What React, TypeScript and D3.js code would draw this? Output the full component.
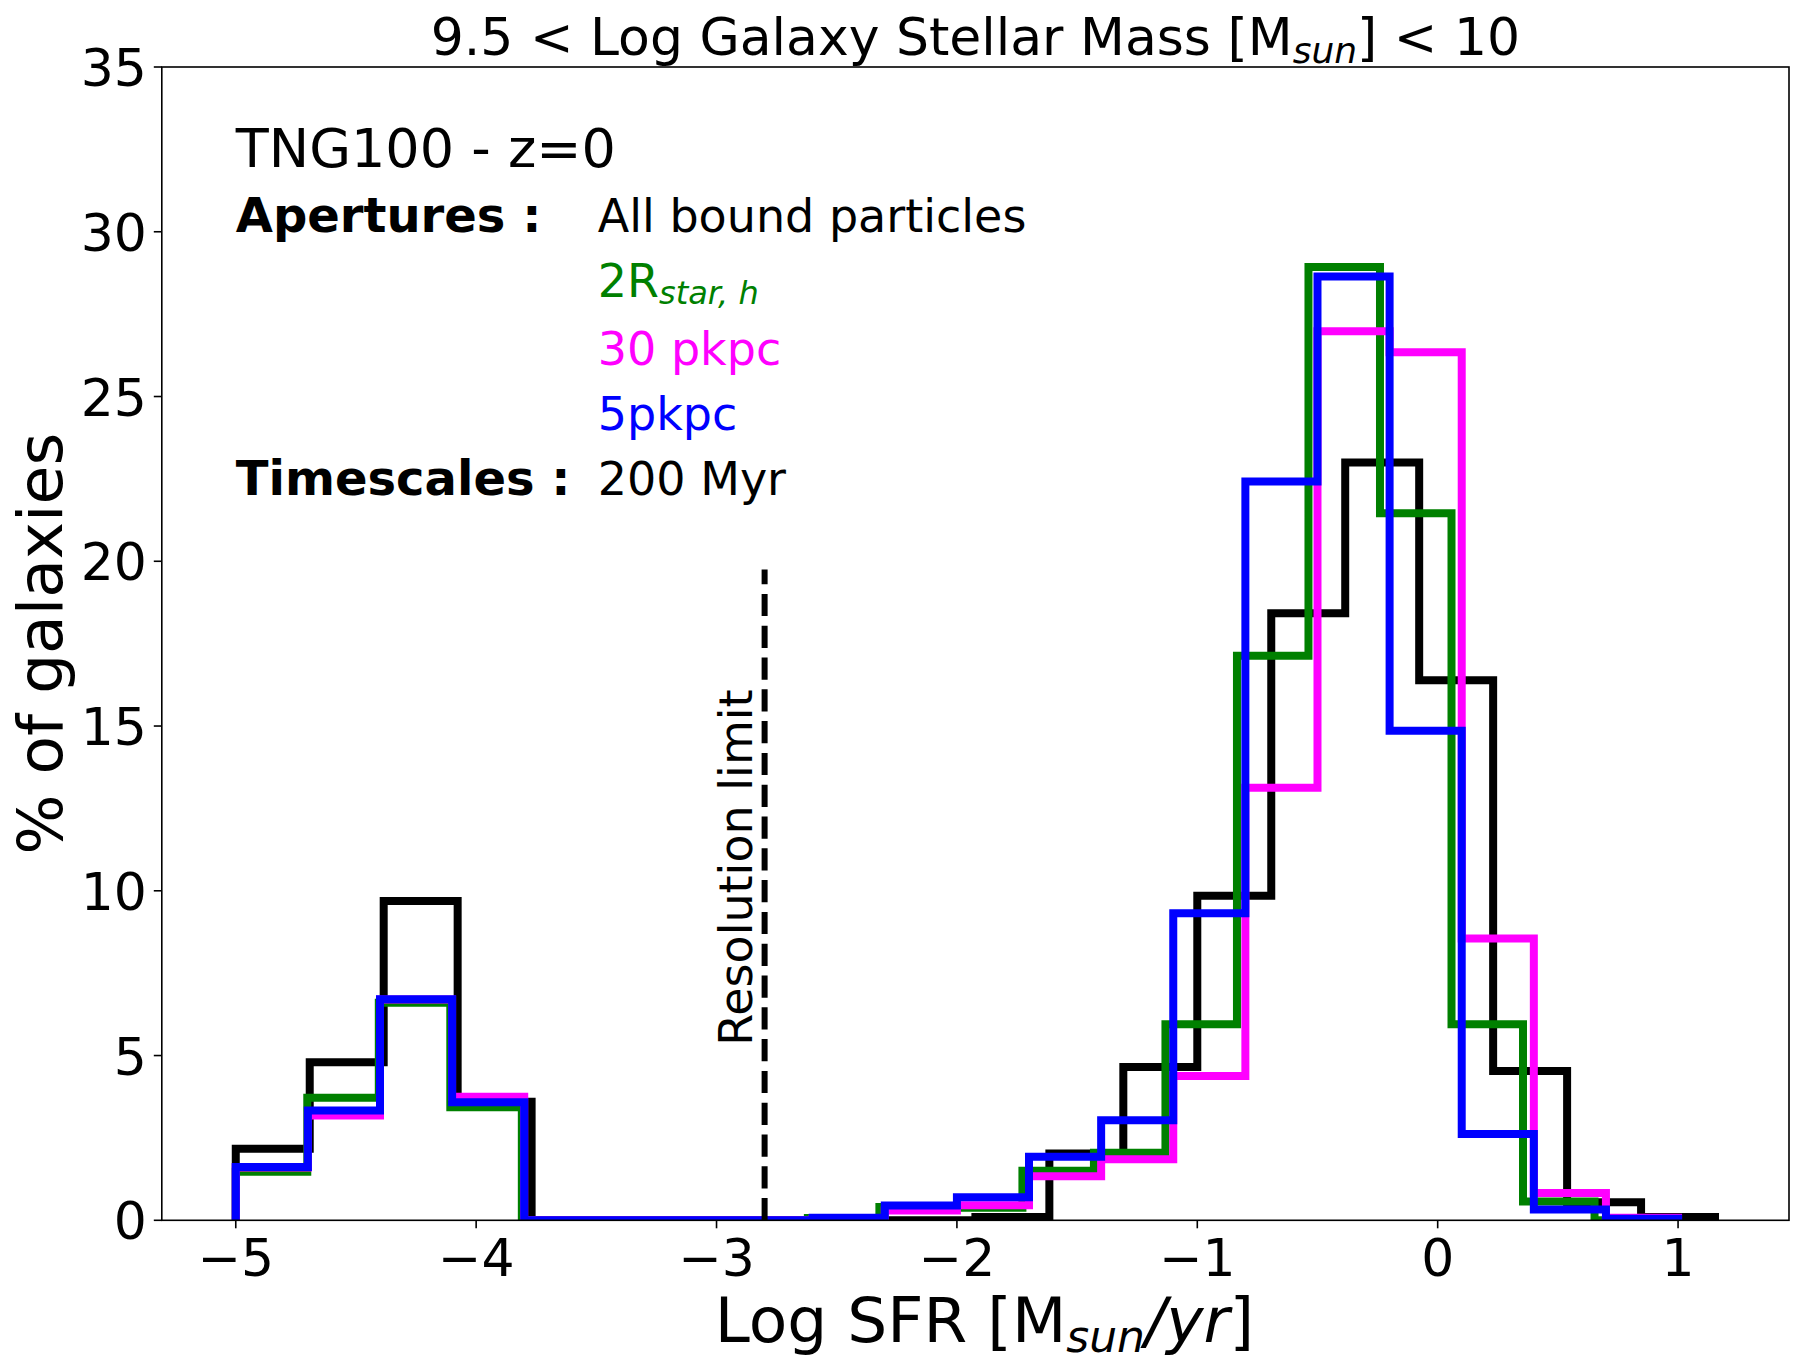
import * as d3 from 'd3'

const WIDTH = 1812
const HEIGHT = 1371
const margin = { top: 67, right: 23, bottom: 150.7, left: 161.8 }
const FONT = '"DejaVu Sans", sans-serif'

// % of galaxies per log SFR bin; every series has 20 even bins between lo and hi
const allBoundRange = [-5, 1.1538]
const allBound = [2.17, 4.8, 9.69, 3.6, 0, 0, 0, 0, 0, 0, 0.1, 2.03, 4.65, 9.85, 18.42, 23.0, 16.39, 4.53, 0.55, 0.1]

const twoRstarRange = [-5, 0.95]
const twoRstar = [1.47, 3.72, 6.6, 3.43, 0, 0, 0, 0, 0.07, 0.4, 0.38, 1.5, 2.05, 5.95, 17.13, 28.93, 21.46, 5.95, 0.57, 0]

const pkpc30Range = [-5, 1.0]
const pkpc30 = [1.6, 3.18, 6.7, 3.75, 0, 0, 0, 0, 0.05, 0.3, 0.46, 1.34, 1.85, 4.38, 13.13, 26.98, 26.34, 8.55, 0.83, 0.08]

const pkpc5Range = [-5, 1.0]
const pkpc5 = [1.62, 3.33, 6.71, 3.58, 0, 0, 0, 0, 0.08, 0.45, 0.7, 1.93, 3.04, 9.32, 22.42, 28.64, 14.86, 2.62, 0.33, 0.05]

const xDomain = [-5.3077, 1.4615]
const yDomain = [0, 35]
const xTicks = [-5, -4, -3, -2, -1, 0, 1]
const yTicks = [0, 5, 10, 15, 20, 25, 30, 35]

// resolution limit marker (log SFR) and where its label starts
const resolutionLimit = -2.8
const resolutionTop = 19.75
const resolutionLabelY = 5.3

const series = [
  { name: 'All bound particles', color: '#000000', range: allBoundRange, values: allBound },
  { name: '2R_star,h', color: '#008000', range: twoRstarRange, values: twoRstar },
  { name: '30 pkpc', color: '#ff00ff', range: pkpc30Range, values: pkpc30 },
  { name: '5pkpc', color: '#0000ff', range: pkpc5Range, values: pkpc5 },
]

const fmt = (v: number) => (v < 0 ? '\u2212' + Math.abs(v) : String(v))

// outline of a step histogram, like matplotlib histtype='step'
function stepPoints(range: number[], values: number[]) {
  const [lo, hi] = range
  const w = (hi - lo) / values.length
  const pts: [number, number][] = [[lo, 0]]
  values.forEach((v, i) => {
    pts.push([lo + i * w, v])
    pts.push([lo + (i + 1) * w, v])
  })
  pts.push([hi, 0])
  return pts
}

export default function App() {
  const x = d3.scaleLinear().domain(xDomain).range([margin.left, WIDTH - margin.right])
  const y = d3.scaleLinear().domain(yDomain).range([HEIGHT - margin.bottom, margin.top])
  const x0 = margin.left
  const x1 = WIDTH - margin.right
  const y0 = HEIGHT - margin.bottom
  const y1 = margin.top
  const cx = (x0 + x1) / 2
  const cy = (y0 + y1) / 2

  const line = d3.line<[number, number]>()
    .x(d => x(d[0]))
    .y(d => y(d[1]))

  const textX = x(-5)
  const colX = textX + 362

  return (
    <svg width={WIDTH} height={HEIGHT} style={{ position: 'absolute', left: 0, top: 0, background: '#fff' }}
      fontFamily={FONT}>
      <defs>
        <clipPath id="plot-area">
          <rect x={x0} y={y1} width={x1 - x0} height={y0 - y1} />
        </clipPath>
      </defs>
      <rect width={WIDTH} height={HEIGHT} fill="#fff" />

      <g clipPath="url(#plot-area)">
        {series.map(s => (
          <path key={s.name} d={line(stepPoints(s.range, s.values)) || ''} fill="none"
            stroke={s.color} strokeWidth={8} strokeLinejoin="miter" strokeLinecap="butt" />
        ))}
        <line x1={x(resolutionLimit)} x2={x(resolutionLimit)} y1={y(0)} y2={y(resolutionTop)}
          stroke="#000" strokeWidth={6} strokeDasharray="22.2 9.6" />
      </g>

      <text transform={`translate(${x(resolutionLimit) - 12.6},${y(resolutionLabelY)}) rotate(-90)`}
        fontSize={46}>Resolution limit</text>

      {/* spines */}
      <rect x={x0} y={y1} width={x1 - x0} height={y0 - y1} fill="none" stroke="#000" strokeWidth={1.6} />

      {/* x axis */}
      {xTicks.map(t => (
        <g key={'x' + t}>
          <line x1={x(t)} x2={x(t)} y1={y0} y2={y0 + 8} stroke="#000" strokeWidth={1.6} />
          <text x={x(t)} y={y0 + 56} textAnchor="middle" fontSize={52}>{fmt(t)}</text>
        </g>
      ))}
      {/* y axis */}
      {yTicks.map(t => (
        <g key={'y' + t}>
          <line x1={x0 - 8} x2={x0} y1={y(t)} y2={y(t)} stroke="#000" strokeWidth={1.6} />
          <text x={x0 - 15} y={y(t) + 19} textAnchor="end" fontSize={52}>{fmt(t)}</text>
        </g>
      ))}

      <text x={cx} y={55} textAnchor="middle" fontSize={52}>
        {'9.5 < Log Galaxy Stellar Mass [M'}<tspan fontSize={36} fontStyle="italic" dy={8}>sun</tspan><tspan dy={-8}>{'] < 10'}</tspan>
      </text>

      <text x={cx + 9} y={1342} textAnchor="middle" fontSize={63}>
        {'Log SFR [M'}<tspan fontSize={44} fontStyle="italic" dy={10}>sun</tspan><tspan dy={-10} fontStyle="italic">/yr</tspan><tspan>]</tspan>
      </text>

      <text transform={`translate(62,${cy}) rotate(-90)`} textAnchor="middle" fontSize={63}>% of galaxies</text>

      {/* annotation block */}
      <text x={textX} y={167} fontSize={54}>TNG100 - z=0</text>
      <text x={textX} y={232} fontSize={48} fontWeight="bold">Apertures :</text>
      <text x={colX} y={232} fontSize={46}>All bound particles</text>
      <text x={colX} y={297} fontSize={46} fill="#008000">
        2R<tspan fontSize={32} fontStyle="italic" dy={7}>star, h</tspan>
      </text>
      <text x={colX} y={365} fontSize={46} fill="#ff00ff">30 pkpc</text>
      <text x={colX} y={430} fontSize={46} fill="#0000ff">5pkpc</text>
      <text x={textX} y={495} fontSize={48} fontWeight="bold">Timescales :</text>
      <text x={colX} y={495} fontSize={46}>200 Myr</text>
    </svg>
  )
}
